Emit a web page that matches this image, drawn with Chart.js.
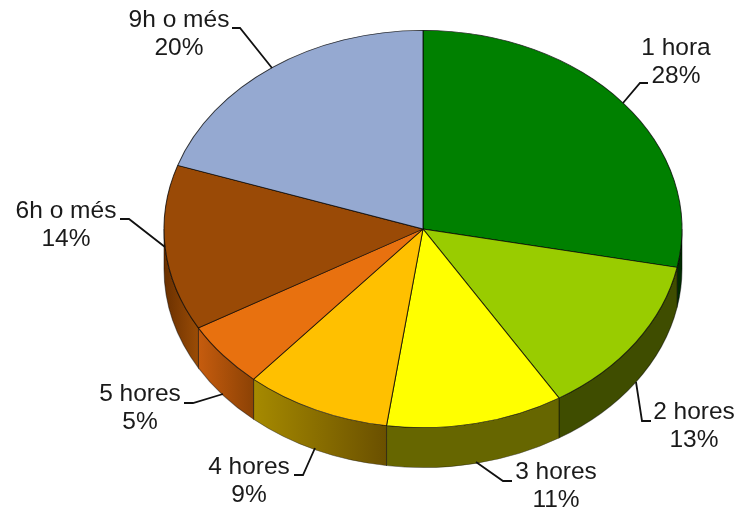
<!DOCTYPE html>
<html><head><meta charset="utf-8">
<style>html,body{margin:0;padding:0;background:#fff}canvas{display:block}</style>
<script src="https://cdn.jsdelivr.net/npm/chart.js@4"></script>
</head><body><canvas id="c" width="738" height="511"></canvas>
<script>
const categories = ["1 hora","2 hores","3 hores","4 hores","5 hores","6h o més","9h o més"];
const shares = [28.1,13.1,11.05,9.1,5.35,13.5,19.8];
const topColors = ["#008000","#99cc00","#ffff00","#ffc000","#e8710f","#9a4a06","#95a9d1"];
const wallLeft  = ["#002c00","#3f4d00","#666600","#a68a00","#c65c0e","#6a3000","#5f6b85"];
const wallRight = ["#002c00","#3f4d00","#666600","#6a5000","#8c4205","#9a4c06","#5f6b85"];
const labelCentres = [[676,55],[694,419],[556,479],[249,474],[140,401],[66,218],[179,27]];
const leaders = [
 [[623,103],[640,83],[648,83]],
 [[636,382],[642,421],[651,421]],
 [[476,462],[503,481],[512,481]],
 [[315,448],[303,475],[294,475]],
 [[223,394],[193,403],[184,403]],
 [[165,247],[129,219],[120,219]],
 [[272,68],[240,28],[232,28]]
];
const RX = 259, DEPTH = 40, LINE = 28;
const FONT = '24.5px "Liberation Sans", Arial, sans-serif';

const squash = {
  id:'squash',
  beforeDatasetDraw(chart){
    const ctx = chart.ctx, arcs = chart.getDatasetMeta(0).data, a0 = arcs[0];
    const k = RX / a0.outerRadius, cx = a0.x, cy = a0.y, R = a0.outerRadius;
    ctx.save();
    ctx.translate(cx,cy); ctx.scale(k,1); ctx.translate(-cx,-cy);
    arcs.forEach((a,i)=>{
      const s = Math.max(a.startAngle,0), e = Math.min(a.endAngle,Math.PI);
      if (e <= s) return;
      const xr = cx + R*Math.cos(s), xl = cx + R*Math.cos(e);
      const g = ctx.createLinearGradient(xl,0,xr,0);
      g.addColorStop(0,wallLeft[i]); g.addColorStop(1,wallRight[i]);
      ctx.beginPath();
      ctx.arc(cx,cy,R,s,e);
      ctx.arc(cx,cy+DEPTH,R,e,s,true);
      ctx.closePath();
      ctx.fillStyle = g; ctx.fill();
      ctx.lineWidth = 0.8; ctx.strokeStyle = 'rgba(0,0,0,0.45)'; ctx.stroke();
    });
  },
  afterDatasetDraw(chart){ chart.ctx.restore(); },
  afterDraw(chart){
    const ctx = chart.ctx;
    ctx.save();
    ctx.strokeStyle = '#111'; ctx.lineWidth = 1.8;
    leaders.forEach(p=>{
      ctx.beginPath();
      p.forEach((q,i)=> i ? ctx.lineTo(q[0],q[1]) : ctx.moveTo(q[0],q[1]));
      ctx.stroke();
    });
    ctx.fillStyle = '#1a1a1a'; ctx.font = FONT; ctx.textAlign = 'center'; ctx.textBaseline = 'alphabetic';
    categories.forEach((c,i)=>{
      const [x,y] = labelCentres[i];
      ctx.fillText(c,x,y);
      ctx.fillText(Math.round(shares[i])+'%',x,y+LINE);
    });
    ctx.restore();
  }
};

new Chart(document.getElementById('c'),{
  type:'pie',
  data:{labels:categories,datasets:[{data:shares,backgroundColor:topColors,borderColor:'rgba(0,0,0,0.75)',borderWidth:0.8,clip:false}]},
  options:{
    responsive:false,animation:false,events:[],
    layout:{padding:{left:224,right:116,top:30,bottom:83}},
    plugins:{legend:{display:false},tooltip:{enabled:false}}
  },
  plugins:[squash]
});
</script></body></html>
